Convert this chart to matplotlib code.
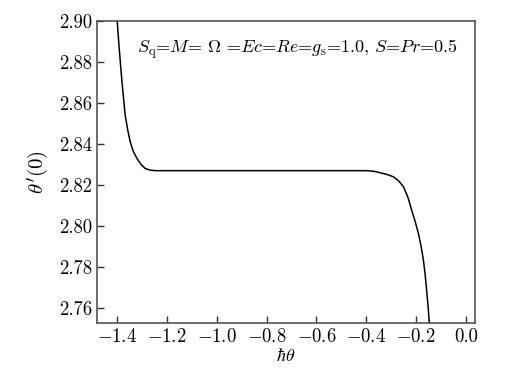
import matplotlib
matplotlib.use("Agg")
import matplotlib.pyplot as plt

# curve
h_theta = [-1.399, -1.391, -1.380, -1.367, -1.357, -1.347, -1.335, -1.320,
           -1.303, -1.287, -1.268, -1.247, -1.000, -0.700, -0.450, -0.398,
           -0.370, -0.345, -0.318, -0.291, -0.270, -0.251, -0.233, -0.218,
           -0.204, -0.191, -0.180, -0.171, -0.164, -0.158, -0.152, -0.147]
theta_p0 = [2.900, 2.8867, 2.8705, 2.8541, 2.8470, 2.8411, 2.8366, 2.8330,
            2.8300, 2.8281, 2.8273, 2.8270, 2.8270, 2.8270, 2.8270, 2.8270,
            2.8267, 2.8260, 2.8252, 2.8240, 2.8220, 2.8192, 2.8140, 2.8078,
            2.8022, 2.7964, 2.7900, 2.7834, 2.7765, 2.7688, 2.7605, 2.7525]

xticks = [-1.4, -1.2, -1.0, -0.8, -0.6, -0.4, -0.2, 0.0]
yticks = [2.76, 2.78, 2.80, 2.82, 2.84, 2.86, 2.88, 2.90]

plt.rcParams['font.family'] = 'serif'
plt.rcParams['font.serif'] = ['cmr10', 'DejaVu Serif']
plt.rcParams['mathtext.fontset'] = 'cm'
plt.rcParams['axes.formatter.use_mathtext'] = True

fig = plt.figure(figsize=(5.10, 3.78), dpi=100)
ax = fig.add_axes([97 / 510, 1 - 323 / 378, 378 / 510, 302 / 378])

ax.plot(h_theta, theta_p0, color='black', lw=1.1)

ax.set_xlim(-1.48, 0.036)
ax.set_ylim(2.7527, 2.90)
ax.set_xticks(xticks)
ax.set_xticklabels(["$-$%.1f" % abs(v) if v < 0 else "%.1f" % v for v in xticks])
ax.set_yticks(yticks)
ax.set_yticklabels(["%.2f" % v for v in yticks])
ax.tick_params(direction='in', length=5, width=1.0, labelsize=13.5, colors='#333333',
               labelcolor='black', top=False, right=False)
for s in ax.spines.values():
    s.set_color('#555555')
    s.set_linewidth(1.2)

ax.set_xlabel(r"$\hbar\theta$", fontsize=13, labelpad=1)
ax.set_ylabel(r"$\theta'(0)$", fontsize=15, labelpad=6)

ax.text(0.106, 0.908,
        r"$S_{\mathrm{q}}$=$M$= $\Omega$ =$Ec$=$Re$=$g_{\mathrm{s}}$=1.0, $S$=$Pr$=0.5",
        transform=ax.transAxes, fontsize=13, va='center', ha='left')

fig.savefig("out.png", dpi=100)
